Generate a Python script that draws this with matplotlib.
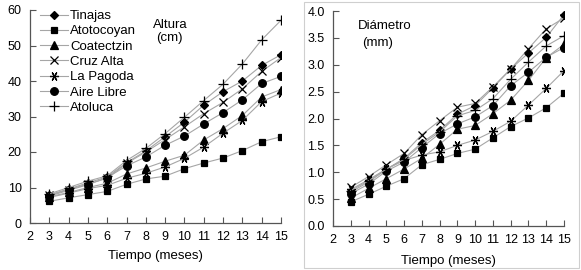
import matplotlib
matplotlib.use("Agg")
import matplotlib.pyplot as plt
from matplotlib.patches import Rectangle

plt.rcParams['font.family'] = ['Liberation Sans', 'DejaVu Sans']

meses = [3, 4, 5, 6, 7, 8, 9, 10, 11, 12, 13, 14, 15]
sitios = ['Tinajas', 'Atotocoyan', 'Coatectzin', 'Cruz Alta', 'La Pagoda', 'Aire Libre', 'Atoluca']

# altura (cm)
alt_tinajas = [7.9, 9.6, 11.3, 13.0, 17.0, 20.3, 24.3, 28.4, 33.2, 37.0, 40.0, 44.4, 47.4]
alt_atotocoyan = [6.1, 7.1, 8.0, 8.9, 10.9, 12.4, 13.2, 15.3, 16.9, 18.3, 20.4, 22.9, 24.3]
alt_coatectzin = [7.4, 8.6, 10.0, 11.2, 13.8, 15.5, 17.4, 19.1, 23.4, 26.6, 30.3, 35.5, 37.6]
alt_cruz_alta = [7.8, 9.4, 11.0, 12.6, 16.8, 20.0, 23.5, 27.1, 30.8, 34.0, 37.8, 42.7, 46.6]
alt_la_pagoda = [7.2, 8.4, 9.7, 10.6, 12.6, 14.0, 15.8, 18.2, 21.4, 25.3, 28.9, 34.2, 36.6]
alt_aire_libre = [7.6, 9.2, 10.8, 12.8, 16.1, 18.6, 21.9, 24.5, 27.9, 31.1, 34.7, 39.3, 41.3]
alt_atoluca = [8.2, 10.0, 11.8, 13.3, 17.6, 21.0, 25.2, 29.8, 34.5, 39.1, 44.8, 51.6, 57.1]

# diametro (mm)
dia_tinajas = [0.63, 0.82, 1.05, 1.26, 1.55, 1.78, 2.08, 2.24, 2.57, 2.92, 3.22, 3.51, 3.93]
dia_atotocoyan = [0.45, 0.59, 0.74, 0.88, 1.14, 1.24, 1.35, 1.43, 1.64, 1.85, 2.01, 2.20, 2.47]
dia_coatectzin = [0.52, 0.70, 0.88, 1.06, 1.26, 1.52, 1.80, 1.87, 2.09, 2.34, 2.71, 3.13, 3.38]
dia_cruz_alta = [0.72, 0.92, 1.14, 1.35, 1.70, 1.96, 2.21, 2.28, 2.59, 2.92, 3.30, 3.67, 3.87]
dia_la_pagoda = [0.68, 0.86, 1.06, 1.22, 1.32, 1.38, 1.50, 1.60, 1.76, 1.95, 2.25, 2.56, 2.89]
dia_aire_libre = [0.60, 0.78, 1.02, 1.19, 1.46, 1.72, 1.90, 2.03, 2.24, 2.61, 2.86, 3.14, 3.32]
dia_atoluca = [0.66, 0.84, 1.06, 1.24, 1.52, 1.75, 2.05, 2.15, 2.37, 2.73, 3.05, 3.35, 3.54]

altura = [alt_tinajas, alt_atotocoyan, alt_coatectzin, alt_cruz_alta,
          alt_la_pagoda, alt_aire_libre, alt_atoluca]
diametro = [dia_tinajas, dia_atotocoyan, dia_coatectzin, dia_cruz_alta,
            dia_la_pagoda, dia_aire_libre, dia_atoluca]

marcadores = [('D', 4.5), ('s', 5), ('^', 5.5), ('x', 6), ((6, 2, 90), 6.5), ('o', 5.5), ('+', 7)]

fig = plt.figure(figsize=(5.81, 2.70), dpi=100)
ax1 = fig.add_axes([30 / 581, 47 / 270, 251 / 581, 213 / 270])
ax2 = fig.add_axes([333 / 581, 44 / 270, 231 / 581, 215 / 270])

# marco gris del panel derecho
fig.patches.append(Rectangle((304 / 581, 2 / 270), 275 / 581, 266 / 270,
                             transform=fig.transFigure, fill=False,
                             edgecolor='#cfcfcf', lw=0.8))

for ax, datos in [(ax1, altura), (ax2, diametro)]:
    for nombre, serie, (m, ms) in zip(sitios, datos, marcadores):
        ax.plot(meses, serie, color='#a6a6a6', lw=0.8, marker=m, ms=ms,
                mfc='black', mec='black', mew=0.9, label=nombre)
    ax.set_xlim(2, 15)
    ax.set_xticks(range(2, 16))
    for s in ['top', 'right']:
        ax.spines[s].set_visible(False)
    for s in ['left', 'bottom']:
        ax.spines[s].set_color('#555555')
        ax.spines[s].set_linewidth(0.9)
    ax.tick_params(direction='in', length=4, width=0.8, color='#555555',
                   labelsize=9, pad=6)

ax1.set_ylim(0, 60)
ax1.set_yticks(range(0, 61, 10))
ax2.set_ylim(0, 4.0)
ax2.set_yticks([0.0, 0.5, 1.0, 1.5, 2.0, 2.5, 3.0, 3.5, 4.0])
ax2.set_yticklabels([f'{v:.1f}' for v in ax2.get_yticks()])

ax1.set_xlabel('Tiempo (meses)', fontsize=9.5, labelpad=5)
ax2.set_xlabel('Tiempo (meses)', fontsize=9.5, labelpad=6)

ax1.legend(loc='upper left', bbox_to_anchor=(0.02, 1.025), frameon=False,
           fontsize=9.5, handlelength=2.1, handletextpad=0.15,
           labelspacing=0.23, borderaxespad=0)

ax1.text(0.558, 0.93, 'Altura', transform=ax1.transAxes,
         ha='center', va='center', fontsize=9.5)
ax1.text(0.554, 0.869, '(cm)', transform=ax1.transAxes,
         ha='center', va='center', fontsize=9.5)
ax2.text(0.225, 0.93, 'Diámetro', transform=ax2.transAxes,
         ha='center', va='center', fontsize=9.5)
ax2.text(0.195, 0.851, '(mm)', transform=ax2.transAxes,
         ha='center', va='center', fontsize=9.5)

fig.savefig('out.png', dpi=100)
